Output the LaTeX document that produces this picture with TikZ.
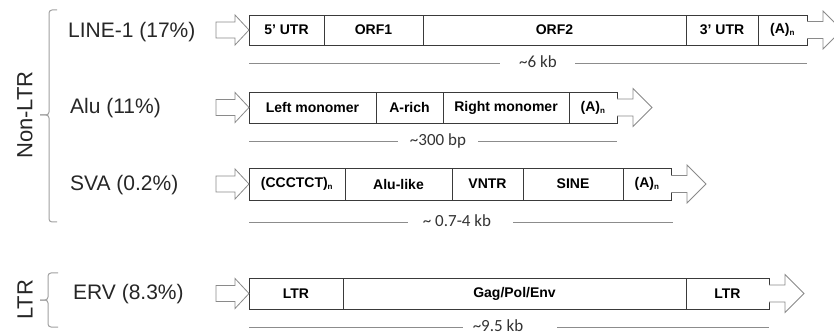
\documentclass[tikz,border=0pt]{standalone}
\usepackage{fontspec}
\setmainfont{Liberation Sans}
\newfontfamily\calib{Carlito}
\definecolor{boxgray}{HTML}{3A3A3A}
\definecolor{arrgray}{HTML}{8A8A8A}
\definecolor{linegray}{HTML}{8C8C8C}
\definecolor{bracegray}{HTML}{A0A0A0}
\tikzset{
  seg/.style={draw=boxgray, line width=0.9pt, inner sep=0pt, outer sep=0pt,
    font=\bfseries\fontsize{14}{14}\selectfont},
  blockarr/.style={draw=arrgray, line width=0.8pt, fill=white, line join=miter},
  lenline/.style={draw=linegray, line width=0.8pt},
  lentext/.style={font=\calib\fontsize{17}{18}\selectfont, text=black!80, inner sep=0pt},
  famlabel/.style={font=\fontsize{21}{24}\selectfont, anchor=west, inner sep=0pt, text=black!85},
  grplabel/.style={font=\fontsize{22}{24}\selectfont, rotate=90, inner sep=0pt, text=black!85},
  bracepath/.style={draw=bracegray, line width=1pt, rounded corners=3pt}
}
% segment: name, left, right, y-center, height, text
\newcommand{\segbox}[6]{\node[seg, minimum width={#3-#2}, minimum height=#5] (#1) at ({(#2+#3)/2},#4) {#6};}
\newcommand{\leftblk}[1]{\draw[blockarr] (#1.west) -- ++(-14,-15) -- ++(0,7) -- ++(-19,0) -- ++(0,16) -- ++(19,0) -- ++(0,7) -- cycle;}
\newcommand{\rightblk}[1]{\draw[blockarr] ([shift={(0,-8.5)}]#1.east) -- ++(16,0) -- ++(0,-10.5) -- ++(19,19) -- ++(-19,19) -- ++(0,-10.5) -- ++(-16,0);}
\newcommand{\An}{(A)\textsubscript{\fontsize{8}{8}\selectfont n}}
\begin{document}
\begin{tikzpicture}[x=1pt,y=-1pt]
\useasboundingbox (0,0) rectangle (834,336);

% group labels and braces
\node[grplabel] (nonltr) at (25,115) {Non-LTR};
\node[grplabel] (ltr) at (25,300) {LTR};
\draw[bracepath] (57,10) -- (49,10) -- (49,115) -- (40,115);
\draw[bracepath] (40,115) -- (49,115) -- (49,222) -- (57,222);
\draw[bracepath] (58,273) -- (48,273) -- (48,300) -- (40,300);
\draw[bracepath] (40,300) -- (48,300) -- (48,327) -- (58,327);

% family labels
\node[famlabel] (line1) at (68,32) {LINE-1 (17\%)};
\node[famlabel] (alu) at (70,108) {Alu (11\%)};
\node[famlabel] (sva) at (70,185) {SVA (0.2\%)};
\node[famlabel] (erv) at (73,294) {ERV (8.3\%)};

% LINE-1
\segbox{la}{249}{324}{30}{30}{5' UTR}
\segbox{lb}{324}{423}{30}{30}{ORF1}
\segbox{lc}{423}{686}{30}{30}{ORF2}
\segbox{ld}{686}{758}{30}{30}{3' UTR}
\segbox{le}{758}{807}{30}{30}{\An}
\leftblk{la}
\rightblk{le}
\node[lentext] (len1) at (538,62) {\textasciitilde 6 kb};
\coordinate (len1a) at (249,63); \coordinate (len1b) at (500,63);
\coordinate (len1c) at (575,63); \coordinate (len1d) at (807,63);
\draw[lenline] (len1a) -- (len1b);
\draw[lenline] (len1c) -- (len1d);

% Alu
\segbox{aa}{249}{376}{107.5}{31}{Left monomer}
\segbox{ab}{376}{443}{107.5}{31}{A-rich}
\segbox{ac}{443}{569}{107.5}{31}{Right monomer}
\segbox{ad}{569}{617}{107.5}{31}{\An}
\leftblk{aa}
\rightblk{ad}
\node[lentext] (len2) at (438,141) {\textasciitilde 300 bp};
\coordinate (len2a) at (249,141.5); \coordinate (len2b) at (398,141.5);
\coordinate (len2c) at (478,141.5); \coordinate (len2d) at (617,141.5);
\draw[lenline] (len2a) -- (len2b);
\draw[lenline] (len2c) -- (len2d);

% SVA
\segbox{sa}{249}{345}{184}{32}{(CCCTCT)\textsubscript{\fontsize{8}{8}\selectfont n}}
\segbox{sb}{345}{452}{184}{32}{Alu-like}
\segbox{sc}{452}{523}{184}{32}{VNTR}
\segbox{sd}{523}{623}{184}{32}{SINE}
\segbox{se}{623}{671}{184}{32}{\An}
\leftblk{sa}
\rightblk{se}
\node[lentext] (len3) at (457,221) {\textasciitilde\ 0.7-4 kb};
\coordinate (len3a) at (249,222); \coordinate (len3b) at (408,222);
\coordinate (len3c) at (513,222); \coordinate (len3d) at (673,222);
\draw[lenline] (len3a) -- (len3b);
\draw[lenline] (len3c) -- (len3d);

% ERV
\segbox{ea}{249}{343}{293.5}{31}{LTR}
\segbox{eb}{343}{686}{293.5}{31}{Gag/Pol/Env}
\segbox{ec}{686}{769}{293.5}{31}{LTR}
\leftblk{ea}
\rightblk{ec}
\node[lentext] (len4) at (498,326) {\textasciitilde 9.5 kb};
\coordinate (len4a) at (249,327); \coordinate (len4b) at (463,327);
\coordinate (len4c) at (557,327); \coordinate (len4d) at (769,327);
\draw[lenline] (len4a) -- (len4b);
\draw[lenline] (len4c) -- (len4d);
\end{tikzpicture}
\end{document}
